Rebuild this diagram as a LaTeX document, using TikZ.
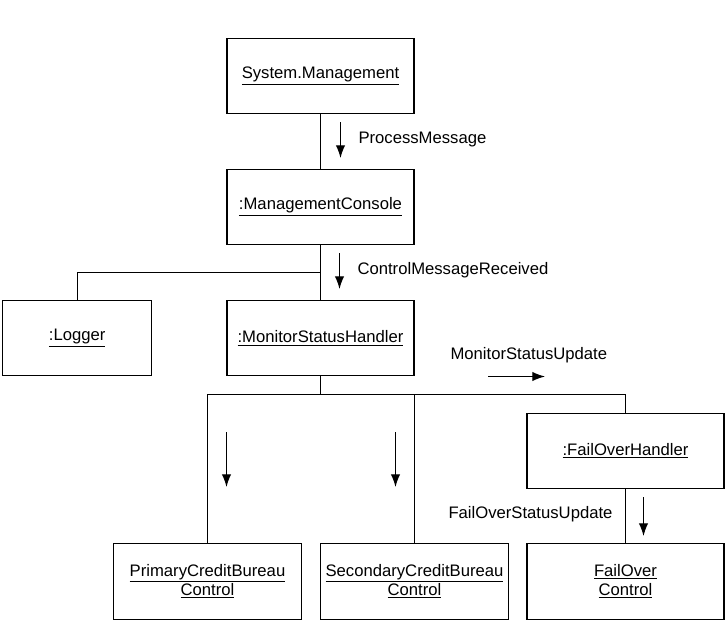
\documentclass[tikz,border=0pt]{standalone}
\usepackage{fontspec}
\setmainfont{Liberation Sans}
\usetikzlibrary{arrows.meta,positioning}

\begin{document}
\begin{tikzpicture}[x=0.75pt,y=-0.75pt,line width=0.8pt,
    obj/.style={draw,rectangle,minimum width=140.25pt,minimum height=56.25pt,align=center,font=\fontsize{12.5}{14.25}\selectfont},
    msg/.style={-{Latex[length=9.5pt,width=7pt]}},
    lbl/.style={font=\fontsize{12.5}{15}\selectfont,inner sep=0pt}]
    \useasboundingbox (0,0) rectangle (725,621);
    % objects
    \node[obj] at (320.5,75.8) (sysman) {\underline{System.Management}};
    \node[obj] at (320.5,206.7) (console) {\underline{:ManagementConsole}};
    \node[obj,minimum width=111.75pt] at (77.2,338.2) (logger) {\underline{:Logger}};
    \node[obj] at (320.5,338.2) (monitor) {\underline{:MonitorStatusHandler}};
    \node[obj,minimum width=147.75pt] at (625.5,450.8) (fohandler) {\underline{:FailOverHandler}};
    \node[obj,minimum width=141pt,minimum height=57pt] at (207.5,581.3) (primary) {\underline{PrimaryCreditBureau}\\\underline{Control}};
    \node[obj,minimum width=141pt,minimum height=57pt] at (414.5,581.3) (secondary) {\underline{SecondaryCreditBureau}\\\underline{Control}};
    \node[obj,minimum width=147.75pt,minimum height=57pt] at (625.5,581.3) (failover) {\underline{FailOver}\\\underline{Control}};
    % links
    \coordinate (split) at (320.5,272.5);
    \coordinate (bus) at (320.5,394.5);
    \draw (sysman) -- (console);
    \draw (console) -- (monitor);
    \draw (split) -| (logger);
    \draw (monitor) -- (bus);
    \draw (primary) |- (bus) -| (fohandler);
    \draw (secondary) -- (secondary |- bus);
    \draw (fohandler) -- (failover);
    % messages
    \coordinate (m1a) at (340.5,122); \coordinate (m1b) at (340.5,158);
    \coordinate (m2a) at (339.5,253); \coordinate (m2b) at (339.5,289);
    \coordinate (m3a) at (488,376.5); \coordinate (m3b) at (545,376.5);
    \coordinate (m4a) at (226.5,432); \coordinate (m4b) at (226.5,487);
    \coordinate (m5a) at (395.5,432); \coordinate (m5b) at (395.5,487);
    \coordinate (m6a) at (643.5,497); \coordinate (m6b) at (643.5,536);
    \draw[msg] (m1a) -- (m1b);
    \draw[msg] (m2a) -- (m2b);
    \draw[msg] (m3a) -- (m3b);
    \draw[msg] (m4a) -- (m4b);
    \draw[msg] (m5a) -- (m5b);
    \draw[msg] (m6a) -- (m6b);
    \node[lbl,anchor=west] at (358,139) (l1) {ProcessMessage};
    \node[lbl,anchor=west] at (357,270) (l2) {ControlMessageReceived};
    \node[lbl,anchor=west] at (450,355) (l3) {MonitorStatusUpdate};
    \node[lbl,anchor=east] at (613,514) (l6) {FailOverStatusUpdate};
\end{tikzpicture}
\end{document}
